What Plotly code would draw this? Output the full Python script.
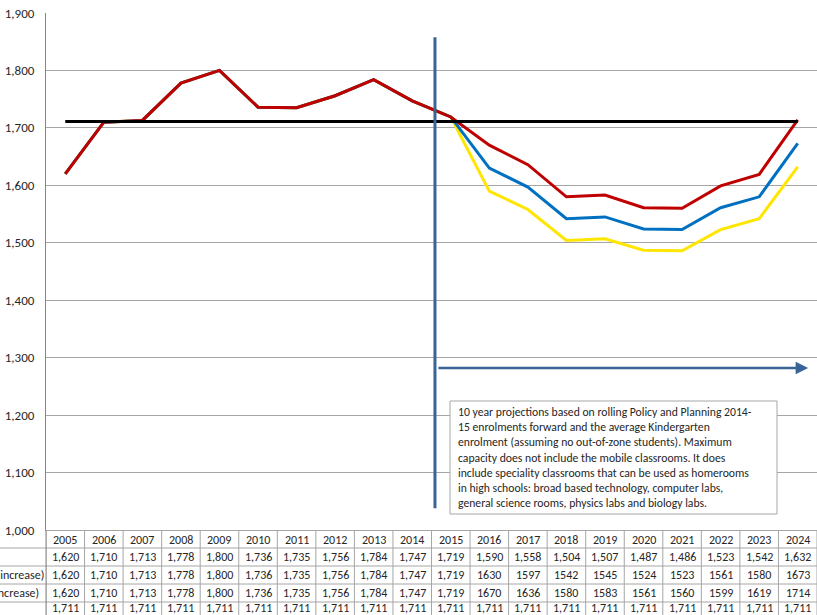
import plotly.graph_objects as go

years = [2005, 2006, 2007, 2008, 2009, 2010, 2011, 2012, 2013, 2014,
         2015, 2016, 2017, 2018, 2019, 2020, 2021, 2022, 2023, 2024]
projected = [1620, 1710, 1713, 1778, 1800, 1736, 1735, 1756, 1784, 1747,
             1719, 1590, 1558, 1504, 1507, 1487, 1486, 1523, 1542, 1632]
projected_25 = [1620, 1710, 1713, 1778, 1800, 1736, 1735, 1756, 1784, 1747,
                1719, 1630, 1597, 1542, 1545, 1524, 1523, 1561, 1580, 1673]
projected_5 = [1620, 1710, 1713, 1778, 1800, 1736, 1735, 1756, 1784, 1747,
               1719, 1670, 1636, 1580, 1583, 1561, 1560, 1599, 1619, 1714]
capacity = [1711] * 20
row_labels = ["Projected Enrolment", "Projected Enrolment (2.5% increase)",
              "Projected Enrolment (5% increase)", "Capacity"]
y_ticks = [1000, 1100, 1200, 1300, 1400, 1500, 1600, 1700, 1800, 1900]
note = ("10 year projections based on rolling Policy and Planning 2014-<br>"
        "15 enrolments forward and the average Kindergarten<br>"
        "enrolment (assuming no out-of-zone students). Maximum<br>"
        "capacity does not include the mobile classrooms. It does<br>"
        "include speciality classrooms that can be used as homerooms<br>"
        "in high schools: broad based technology, computer labs,<br>"
        "general science rooms, physics labs and biology labs.")

W, H = 817, 615
L, T, B = 46, 13, 85
PW = W - L
PH = H - T - B
FONT = "Carlito, Calibri, 'Liberation Sans Narrow', 'Liberation Sans', sans-serif"
GRID = "#A6A6A6"
TXT = "#262626"


def px(x):
    return (x - L) / PW


def py(y):
    return (H - B - y) / PH


idx = list(range(len(years)))

fig = go.Figure()
series = [(projected, "#FFE600"), (projected_25, "#0070C0"),
          (projected_5, "#C00000"), (capacity, "#000000")]
for (vals, col), name in zip(series, row_labels):
    fig.add_trace(go.Scatter(x=idx, y=vals, mode="lines", name=name,
                             line=dict(color=col, width=3), cliponaxis=False))

shapes = []
ann = []

# table horizontal lines
for yy in [548, 566, 584, 602]:
    shapes.append(dict(type="line", xref="paper", yref="paper", x0=px(0), x1=px(W + 2),
                       y0=py(yy), y1=py(yy), line=dict(color=GRID, width=1)))
# table vertical lines
for i in range(len(years) + 1):
    shapes.append(dict(type="line", xref="x", yref="paper", x0=i - 0.5, x1=i - 0.5,
                       y0=py(530), y1=py(H + 2), line=dict(color=GRID, width=1)))

# year header + rows
for i, yr in enumerate(years):
    ann.append(dict(x=i, y=py(539.5), xref="x", yref="paper", text=str(yr), showarrow=False,
                    yanchor="middle", xanchor="center", borderpad=0,
                    font=dict(family=FONT, size=12, color=TXT)))
rows = [projected, projected_25, projected_5, capacity]
row_y = [557, 575, 593, 607.5]
for r, (vals, yy) in enumerate(zip(rows, row_y)):
    for i, v in enumerate(vals):
        if r in (1, 2) and i > 10:
            s = str(v)
        else:
            s = f"{v:,}"
        ann.append(dict(x=i, y=py(yy), xref="x", yref="paper", text=s, showarrow=False,
                        yanchor="middle", xanchor="center", borderpad=0,
                        font=dict(family=FONT, size=12, color=TXT)))
label_end = [-20, 45, 40, -20]
for lab, yy, xe in zip(row_labels, row_y, label_end):
    ann.append(dict(x=px(xe), y=py(yy), xref="paper", yref="paper", text=lab,
                    showarrow=False, xanchor="right", yanchor="middle", borderpad=0,
                    font=dict(family=FONT, size=12, color=TXT)))

# vertical marker line
shapes.append(dict(type="line", xref="x", yref="y", x0=9.59, x1=9.59, y0=1038, y1=1858,
                   line=dict(color="#3A6398", width=3), layer="above"))
# text box
shapes.append(dict(type="rect", xref="paper", yref="paper", x0=px(450), x1=px(777),
                   y0=py(514), y1=py(401), fillcolor="white",
                   line=dict(color="#A6A6A6", width=1), layer="above"))
ann.append(dict(x=px(456), y=py(403), xref="paper", yref="paper", text=note,
                showarrow=False, xanchor="left", yanchor="top", align="left",
                font=dict(family=FONT, size=11.7, color=TXT)))
# arrow
ann.append(dict(x=19.27, y=1282, ax=9.64, ay=1282, xref="x", yref="y", axref="x", ayref="y",
                text="", showarrow=True, arrowhead=2, arrowsize=1, arrowwidth=2.5,
                arrowcolor="#3A6398"))

fig.update_layout(
    width=W, height=H, margin=dict(l=L, r=0, t=T, b=B, autoexpand=False),
    paper_bgcolor="white", plot_bgcolor="white", showlegend=False,
    shapes=shapes, annotations=ann,
    xaxis=dict(range=[-0.5, 19.5], showticklabels=False, showgrid=False, zeroline=False,
               showline=True, linecolor=GRID, linewidth=1, ticks="", automargin=False),
    yaxis=dict(range=[1000, 1900], tickvals=y_ticks, tickformat=",", showgrid=True,
               gridcolor=GRID, gridwidth=1.3, zeroline=False, showline=True,
               linecolor="#868686", linewidth=1, ticks="", ticklabelstandoff=8,
               automargin=False,
               tickfont=dict(family=FONT, size=13, color=TXT)),
)
fig.add_shape(type="line", xref="paper", yref="paper", x0=0, x1=0, y0=py(530), y1=py(H + 2),
              line=dict(color="#868686", width=1))
fig.write_html("out.html", config={"displayModeBar": False},
               post_script="document.body.style.margin='0';document.body.style.overflow='hidden';")
